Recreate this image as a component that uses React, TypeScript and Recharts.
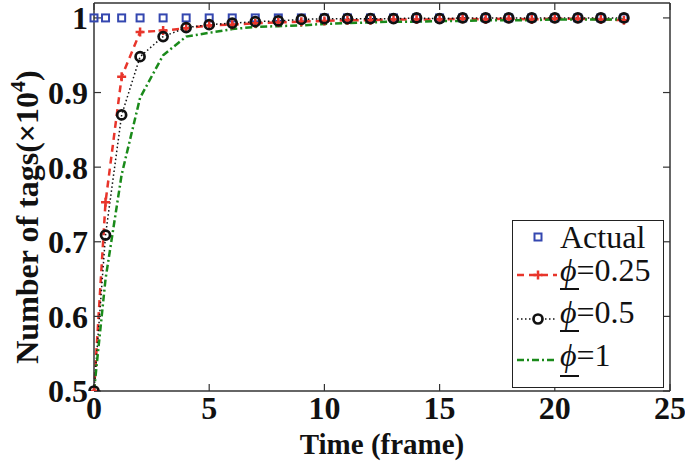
import React from 'react';
import { LineChart, Line, XAxis, YAxis, Legend } from 'recharts';

const timeFrames = [0, 0.5, 1.2, 2, 3, 4, 5, 6, 7, 8, 9, 10, 11, 12, 13, 14, 15, 16, 17, 18, 19, 20, 21, 22, 23];
const actualTags = [1, 1, 1, 1, 1, 1, 1, 1, 1, 1, 1, 1, 1, 1, 1, 1, 1, 1, 1, 1, 1, 1, 1, 1, 1];
const phi025Tags = [0.5, 0.753, 0.921, 0.981, 0.983, 0.986, 0.99, 0.991, 0.993, 0.994, 0.995, 0.996, 0.997, 0.997, 0.998, 0.998, 0.998, 0.999, 0.998, 0.999, 0.998, 0.999, 0.999, 0.998, 0.997];
const phi05Tags = [0.5, 0.709, 0.87, 0.948, 0.975, 0.987, 0.991, 0.993, 0.995, 0.996, 0.998, 0.999, 0.999, 0.999, 0.999, 1.0, 0.999, 1.0, 1.0, 1.0, 1.0, 1.0, 1.0, 1.0, 1.0];
const phi1Tags = [0.5, 0.65, 0.79, 0.893, 0.95, 0.975, 0.98, 0.985, 0.988, 0.989, 0.99, 0.992, 0.993, 0.994, 0.995, 0.995, 0.996, 0.996, 0.997, 0.997, 0.997, 0.998, 0.998, 0.998, 0.998];

const xTicks = [0, 5, 10, 15, 20, 25];
const yTicks = [0.5, 0.6, 0.7, 0.8, 0.9, 1];
const seriesNames = ['Actual', '\u03D5=0.25', '\u03D5=0.5', '\u03D5=1'];
const xTitle = 'Time (frame)';
const yTitle = 'Number of tags(\u00D710';
const yTitleExp = '4';

const data = timeFrames.map((t, i) => ({
  t,
  actual: actualTags[i],
  p025: phi025Tags[i],
  p05: phi05Tags[i],
  p1: phi1Tags[i],
}));

const SERIF = '"Liberation Serif", "Times New Roman", Times, serif';
const BLUE = '#3447b0';
const RED = '#e8352b';
const BLACK = '#111111';
const GREEN = '#1a8a1a';
const AXIS = '#333333';

const SquareDot = (p: any) =>
  p.cx == null ? <g key={`s${p.index}`} /> : (
    <rect key={`s${p.index}`} x={p.cx - 3.5} y={p.cy - 3.5} width={7} height={7} fill="none" stroke={BLUE} strokeWidth={2} />
  );
const PlusDot = (p: any) =>
  p.cx == null ? <g key={`p${p.index}`} /> : (
    <path key={`p${p.index}`} d={`M${p.cx - 4.5},${p.cy}H${p.cx + 4.5}M${p.cx},${p.cy - 4.5}V${p.cy + 4.5}`} stroke={RED} strokeWidth={2.5} fill="none" />
  );
const RingDot = (p: any) =>
  p.cx == null ? <g key={`r${p.index}`} /> : (
    <circle key={`r${p.index}`} cx={p.cx} cy={p.cy} r={4.5} fill="none" stroke={BLACK} strokeWidth={2.7} />
  );

const EmptyTick = () => <g />;

const YLabel = (props: any) => {
  const vb = props.viewBox || { x: 0, y: 0, width: 0, height: 0 };
  const cx = vb.x + 38;
  const cy = vb.y + vb.height / 2 + 20;
  return (
    <text
      x={cx}
      y={cy}
      transform={`rotate(-90, ${cx}, ${cy})`}
      textAnchor="middle"
      style={{ fontFamily: SERIF, fontWeight: 700, fontSize: 32 }}
      fill="#111"
    >
      {yTitle}
      <tspan dy={-13} style={{ fontSize: 22 }}>{yTitleExp}</tspan>
      <tspan dy={13}>)</tspan>
    </text>
  );
};

const sampleY: Record<string, number> = { actual: 17, p025: 55, p05: 99, p1: 140 };
const baseY: Record<string, number> = { actual: 28, p025: 61, p05: 103, p1: 146 };
const underY: Record<string, number> = { actual: 0, p025: 69, p05: 111, p1: 156 };

const LegendBox = (props: any) => {
  const payload = props.payload || [];
  return (
    <svg width={152} height={168} style={{ display: 'block', fontFamily: SERIF }}>
      <rect x={0.5} y={0.5} width={151} height={167} fill="#ffffff" stroke="#222" strokeWidth={1} />
      {payload.map((entry: any) => {
        const key = entry.dataKey as string;
        const sy = sampleY[key];
        const name = String(entry.value);
        let sample: any = null;
        if (key === 'actual') {
          sample = <rect x={22.5} y={sy - 3.5} width={7} height={7} fill="none" stroke={BLUE} strokeWidth={2} />;
        } else if (key === 'p025') {
          sample = (
            <g>
              <line x1={5} x2={45} y1={sy} y2={sy} stroke={RED} strokeWidth={2.5} strokeDasharray="7 5" />
              <path d={`M${21.5},${sy}H${30.5}M26,${sy - 4.5}V${sy + 4.5}`} stroke={RED} strokeWidth={2.5} />
            </g>
          );
        } else if (key === 'p05') {
          sample = (
            <g>
              <line x1={5} x2={45} y1={sy} y2={sy} stroke={BLACK} strokeWidth={1.5} strokeDasharray="1.5 2.5" />
              <circle cx={26} cy={sy} r={4.5} fill="#fff" stroke={BLACK} strokeWidth={2.7} />
            </g>
          );
        } else {
          sample = <line x1={5} x2={45} y1={sy} y2={sy} stroke={GREEN} strokeWidth={2.5} strokeDasharray="7 3 2 3" />;
        }
        const isPhi = name.charAt(0) === '\u03D5';
        return (
          <g key={key}>
            {sample}
            <text x={48} y={baseY[key]} style={{ fontFamily: SERIF, fontSize: 32, fontWeight: 400 }} fill="#111">
              {isPhi ? (
                <>
                  <tspan style={{ fontStyle: 'italic' }}>{name.charAt(0)}</tspan>
                  <tspan>{name.slice(1)}</tspan>
                </>
              ) : name}
            </text>
            {isPhi ? <line x1={48} x2={67} y1={underY[key]} y2={underY[key]} stroke="#111" strokeWidth={2} /> : null}
          </g>
        );
      })}
    </svg>
  );
};

export default function App() {
  const tickStyle = { fill: '#111', fontSize: 32, fontWeight: 700, fontFamily: SERIF };
  return (
    <div style={{ position: 'absolute', left: 0, top: 0, width: 685, height: 463, background: '#fff' }}>
      <LineChart width={685} height={463} data={data} margin={{ top: 2, right: 14, bottom: 0, left: 0 }}>
        <XAxis
          dataKey="t"
          type="number"
          domain={[0, 25]}
          ticks={xTicks}
          interval={0}
          height={72}
          tickSize={-7}
          tickMargin={12}
          axisLine={{ stroke: AXIS, strokeWidth: 1.5 }}
          tickLine={{ stroke: AXIS, strokeWidth: 1.2 }}
          tick={tickStyle}
          label={{ value: xTitle, position: 'insideBottom', offset: 9, fill: '#111', fontSize: 29, fontWeight: 700, fontFamily: SERIF }}
        />
        <XAxis
          xAxisId="top"
          orientation="top"
          dataKey="t"
          type="number"
          domain={[0, 25]}
          ticks={xTicks}
          interval={0}
          height={1}
          tickSize={-7}
          axisLine={{ stroke: AXIS, strokeWidth: 1.5 }}
          tickLine={{ stroke: AXIS, strokeWidth: 1.2 }}
          tick={EmptyTick}
        />
        <YAxis
          type="number"
          domain={[0.5, 1.02]}
          ticks={yTicks}
          interval={0}
          allowDataOverflow
          width={94}
          tickSize={-7}
          tickMargin={13}
          axisLine={{ stroke: AXIS, strokeWidth: 1.5 }}
          tickLine={{ stroke: AXIS, strokeWidth: 1.2 }}
          tick={tickStyle}
          tickFormatter={(v: number) => (v === 1 ? '1' : v.toFixed(1))}
          label={<YLabel />}
        />
        <YAxis
          yAxisId="right"
          orientation="right"
          type="number"
          domain={[0.5, 1.02]}
          ticks={yTicks}
          interval={0}
          allowDataOverflow
          width={1}
          tickSize={-7}
          axisLine={{ stroke: AXIS, strokeWidth: 1.5 }}
          tickLine={{ stroke: AXIS, strokeWidth: 1.2 }}
          tick={EmptyTick}
        />
        <Line dataKey="actual" name={seriesNames[0]} stroke="none" strokeWidth={0} dot={SquareDot} activeDot={false} isAnimationActive={false} />
        <Line dataKey="p025" name={seriesNames[1]} stroke={RED} strokeWidth={2.5} strokeDasharray="7 5" dot={PlusDot} activeDot={false} isAnimationActive={false} />
        <Line dataKey="p05" name={seriesNames[2]} stroke={BLACK} strokeWidth={1.5} strokeDasharray="1.5 2.5" dot={RingDot} activeDot={false} isAnimationActive={false} />
        <Line dataKey="p1" name={seriesNames[3]} stroke={GREEN} strokeWidth={2.5} strokeDasharray="7 3 2 3" dot={false} activeDot={false} isAnimationActive={false} />
        <Legend
          layout="vertical"
          align="center"
          verticalAlign="middle"
          content={<LegendBox />}
          wrapperStyle={{ position: 'absolute', left: 512, top: 220, width: 152, height: 168, margin: 0, padding: 0 }}
        />
      </LineChart>
    </div>
  );
}
